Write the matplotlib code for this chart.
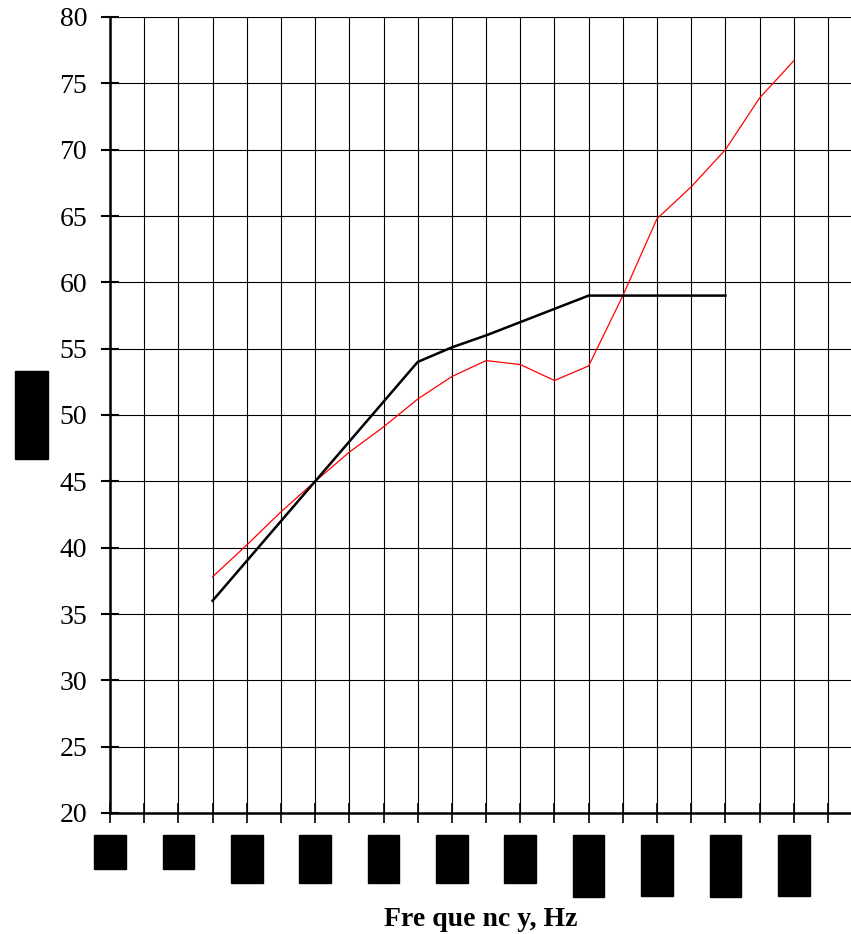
import matplotlib.pyplot as plt

# 1/3 octave band centres on the x axis (one grid column per band)
bands = [50, 63, 80, 100, 125, 160, 200, 250, 315, 400, 500, 630,
         800, 1000, 1250, 1600, 2000, 2500, 3150, 4000, 5000, 6300]

# black curve (100 .. 3150 Hz)
black_freq = [100, 125, 160, 200, 250, 315, 400, 500, 630, 800, 1000,
              1250, 1600, 2000, 2500, 3150]
black_val = [36.0, 39.0, 42.0, 45.0, 48.0, 51.0, 54.0, 55.1, 56.0, 57.0,
             58.0, 59.0, 59.0, 59.0, 59.0, 59.0]

# red curve (100 .. 5000 Hz)
red_freq = [100, 125, 160, 200, 250, 315, 400, 500, 630, 800, 1000,
            1250, 1600, 2000, 2500, 3150, 4000, 5000]
red_val = [37.8, 40.2, 42.7, 45.0, 47.2, 49.1, 51.2, 52.9, 54.1, 53.8,
           52.6, 53.7, 59.0, 64.8, 67.2, 70.0, 73.9, 76.7]

y_ticks = [20, 25, 30, 35, 40, 45, 50, 55, 60, 65, 70, 75, 80]

plt.rcParams['font.family'] = ['Liberation Serif', 'DejaVu Serif']

fig = plt.figure(figsize=(8.51, 9.34), dpi=100)
ax = fig.add_axes([110/851, 121/934, 741/851, 796/934])

bx = [bands.index(f) for f in black_freq]
rx = [bands.index(f) for f in red_freq]
ax.plot(rx, red_val, color="#ff0000", lw=0.9, zorder=3)
ax.plot(bx, black_val, color="black", lw=1.8, zorder=4)

ax.set_xlim(0, 741/34.19)
ax.set_ylim(20, 80)
ax.set_yticks(y_ticks)
ax.set_xticks(range(len(bands)))
ax.set_xticklabels([str(f) if i % 2 == 0 else "" for i, f in enumerate(bands)],
                   rotation=90, va="top", fontsize=20)
for lab in ax.get_xticklabels():
    if lab.get_text():
        lab.set_bbox(dict(facecolor="black", edgecolor="black", pad=2.5))
        lab.set_color("black")

ax.grid(True, color="black", lw=0.8)
ax.set_axisbelow(True)
ax.tick_params(axis="y", direction="inout", length=13, width=1.5,
               labelsize=20, pad=10)
ax.tick_params(axis="x", direction="inout", length=14, width=1.2, pad=11)

for s in ["top", "right"]:
    ax.spines[s].set_visible(False)
ax.spines["left"].set_linewidth(1.8)
ax.spines["bottom"].set_linewidth(1.8)

# y label (blacked out in the reference)
ax.set_ylabel("TL, dB", fontsize=20, color="black", labelpad=11,
              bbox=dict(facecolor="black", edgecolor="black", pad=3))
ax.set_xlabel("Fre que nc y, Hz", fontsize=20, fontweight="bold",
              labelpad=10)

fig.savefig("out.png", dpi=100)
